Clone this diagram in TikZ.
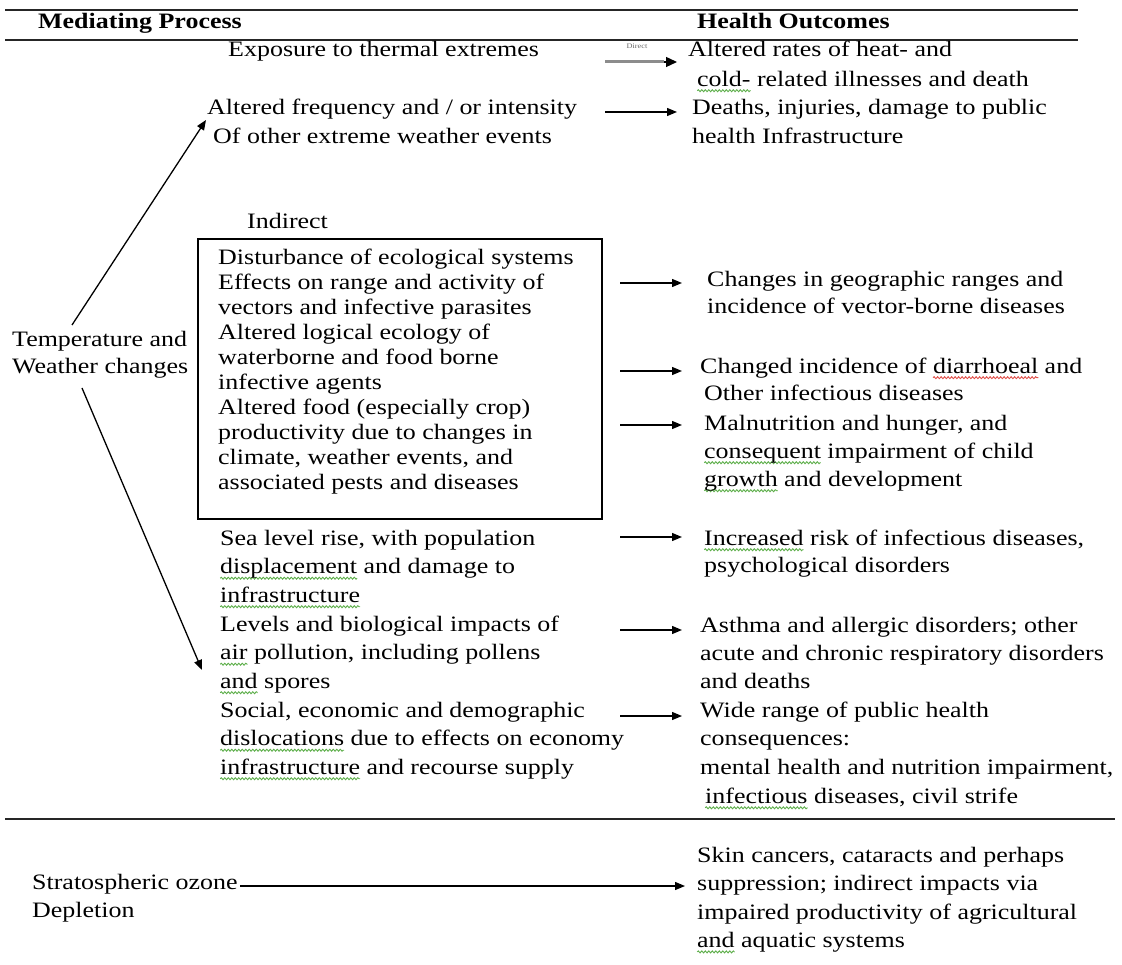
\documentclass[tikz,border=0pt]{standalone}
\usepackage{fontspec}
\setmainfont{Liberation Serif}[FakeStretch=1.18]
\usetikzlibrary{arrows.meta,decorations.pathmorphing}
\definecolor{sqgreen}{HTML}{5DAE4A}
\definecolor{sqred}{HTML}{E0504A}
\newsavebox\sqbox
\newdimen\sqdim
\newcommand\sqw[2][sqgreen]{\sbox\sqbox{#2}\sqdim=\wd\sqbox\leavevmode\rlap{\tikz[baseline=0pt]{\useasboundingbox (0pt,0pt); \draw[#1,line width=0.9pt,decorate,decoration={snake,amplitude=1pt,segment length=3.5pt}] (0pt,-4.5pt) -- (\sqdim,-4.5pt);}}\usebox\sqbox}
\newcommand\fs{\rule{0pt}{16pt}}
\tikzset{
  txt/.style={anchor=north west, inner sep=0pt, align=left, font=\fontsize{22}{28.5}\selectfont},
  skip/.style={font=\fontsize{22}{#1}\selectfont},
  hdr/.style={txt, font=\bfseries\fontsize{22}{28.5}\selectfont},
  rulel/.style={line width=1.6pt, draw=black!85},
  arr/.style={line width=1.3pt, -{Triangle[length=10pt,width=8pt]}},
  bigarr/.style={line width=1.3pt, -{Triangle[length=11pt,width=10pt]}},
  gline/.style={line width=3pt, draw=black!45},
  boxl/.style={draw, line width=1.6pt}
}
\begin{document}
\begin{tikzpicture}[x=1pt,y=-1pt]
\useasboundingbox (0,0) rectangle (1122,965);
% rules
\coordinate (l1a) at (5,10);  \coordinate (l1b) at (1078,10);
\coordinate (l2a) at (5,40);  \coordinate (l2b) at (1078,40);
\coordinate (l3a) at (5,819); \coordinate (l3b) at (1115,819);
\draw[rulel] (l1a) -- (l1b);
\draw[rulel] (l2a) -- (l2b);
\draw[rulel] (l3a) -- (l3b);
% headings
\node[hdr] (hmp) at (38,12) {\fs Mediating Process};
\node[hdr] (hho) at (697,12) {\fs Health Outcomes};
% direct
\node[txt] (exp) at (228,40) {\fs Exposure to thermal extremes};
\node[inner sep=0pt, font=\fontsize{7}{8}\selectfont, text=black!60] (dir) at (637,46) {Direct};
\node[txt, skip=30] (r1) at (688,40) {\fs Altered rates of heat- and\\\hspace*{9pt}\sqw{cold-} related illnesses and death};
\node[txt, skip=29] (alt) at (207,98) {\fs Altered frequency and / or intensity\\\hspace*{6pt}Of other extreme weather events};
\node[txt, skip=29] (r2) at (692,98) {\fs Deaths, injuries, damage to public\\health Infrastructure};
% indirect
\node[txt] (ind) at (247,212) {\fs Indirect};
\node[boxl, inner sep=0pt, minimum width=404pt, minimum height=280pt, anchor=north west] (box) at (197,238) {};
\node[txt, skip=25] (bt) at (218,248) {\fs Disturbance of ecological systems\\Effects on range and activity of\\vectors and infective parasites\\Altered logical ecology of\\waterborne and food borne\\infective agents\\Altered food (especially crop)\\productivity due to changes in\\climate, weather events, and\\associated pests and diseases};
\node[txt, skip=27] (temp) at (12,330) {\fs Temperature and\\Weather changes};
\node[txt, skip=27] (r3) at (707,270) {\fs Changes in geographic ranges and\\incidence of vector-borne diseases};
\node[txt, skip=27] (r4) at (700,357) {\fs Changed incidence of \sqw[sqred]{diarrhoeal} and\\\hspace*{4pt}Other infectious diseases};
\node[txt, skip=28] (r5) at (704,414) {\fs Malnutrition and hunger, and\\\sqw{consequent} impairment of child\\\sqw{growth} and development};
\node[txt] (sea) at (220,529) {\fs Sea level rise, with population\\\sqw{displacement} and damage to\\\sqw{infrastructure}};
\node[txt, skip=27] (r6) at (704,529) {\fs \sqw{Increased} risk of infectious diseases,\\psychological disorders};
\node[txt] (lev) at (220,615) {\fs Levels and biological impacts of\\\sqw{air} pollution, including pollens\\\sqw{and} spores};
\node[txt, skip=28] (r7) at (700,616) {\fs Asthma and allergic disorders; other\\acute and chronic respiratory disorders\\and deaths};
\node[txt] (soc) at (220,701) {\fs Social, economic and demographic\\\sqw{dislocations} due to effects on economy\\\sqw{infrastructure} and recourse supply};
\node[txt, skip=28.7] (r8) at (700,701) {\fs Wide range of public health\\consequences:\\mental health and nutrition impairment,\\\hspace*{5pt}\sqw{infectious} diseases, civil strife};
% ozone
\node[txt, skip=28] (strat) at (32,873) {\fs Stratospheric ozone\\Depletion};
\node[txt, skip=28.4] (r9) at (697,846) {\fs Skin cancers, cataracts and perhaps\\suppression; indirect impacts via\\impaired productivity of agricultural\\\sqw{and} aquatic systems};
% arrow end points
\coordinate (a0s) at (605,62);  \coordinate (a0m) at (664,62); \coordinate (a0e) at (677,62);
\coordinate (a1s) at (605,112); \coordinate (a1e) at (677,112);
\coordinate (a2s) at (620,283); \coordinate (a2e) at (682,283);
\coordinate (a3s) at (620,371); \coordinate (a3e) at (682,371);
\coordinate (a4s) at (620,425); \coordinate (a4e) at (682,425);
\coordinate (a5s) at (620,537); \coordinate (a5e) at (682,537);
\coordinate (a6s) at (620,630); \coordinate (a6e) at (682,630);
\coordinate (a7s) at (620,716); \coordinate (a7e) at (682,716);
\coordinate (a8s) at (240,886); \coordinate (a8e) at (685,886);
\coordinate (up0) at (72,325);  \coordinate (up1) at (206,120);
\coordinate (dn0) at (82,388);  \coordinate (dn1) at (202,670);
\draw[gline] (a0s) -- (a0m);
\draw[bigarr] (a0m) -- (a0e);
\draw[arr] (a1s) -- (a1e);
\draw[arr] (a2s) -- (a2e);
\draw[arr] (a3s) -- (a3e);
\draw[arr] (a4s) -- (a4e);
\draw[arr] (a5s) -- (a5e);
\draw[arr] (a6s) -- (a6e);
\draw[arr] (a7s) -- (a7e);
\draw[arr] (a8s) -- (a8e);
\draw[arr] (up0) -- (up1);
\draw[arr] (dn0) -- (dn1);
\end{tikzpicture}
\end{document}
